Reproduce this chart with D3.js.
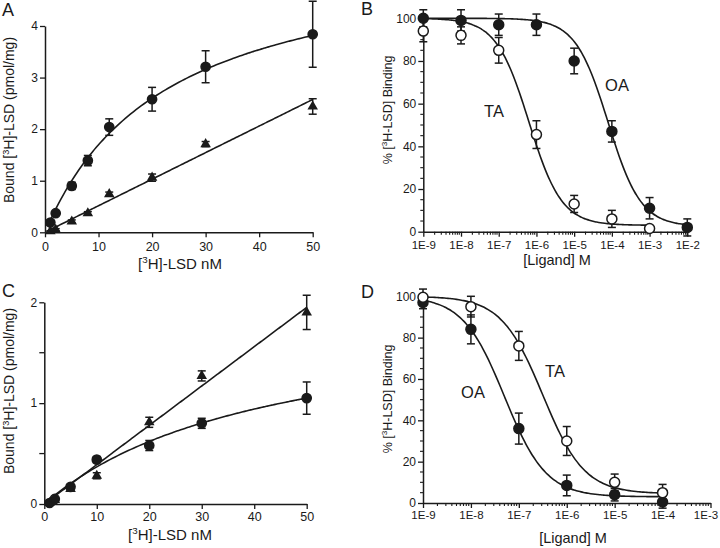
<!DOCTYPE html>
<html><head><meta charset="utf-8">
<script src="https://cdn.jsdelivr.net/npm/d3@7"></script>
<style>
body{margin:0;background:#fff}
svg{display:block}
text{font-family:"Liberation Sans",Arial,sans-serif;fill:#1a1a1a}
</style>
</head><body>
<svg id="chart" width="720" height="548"></svg>
<script>
// ---------- Panel A: saturation binding ----------
const concA = [1, 2, 5, 8, 12, 20, 30, 50];
const boundA_circle = [0.19, 0.37, 0.90, 1.39, 2.04, 2.58, 3.21, 3.84];
const errA_circle = [0.03, 0.04, 0.07, 0.10, 0.16, 0.23, 0.31, 0.64];
const boundA_triangle = [0.02, 0.05, 0.21, 0.37, 0.74, 1.06, 1.71, 2.44];
const errA_triangle = [0.01, 0.02, 0.03, 0.03, 0.04, 0.07, 0.05, 0.15];
const fitA_circle = [5.55, 22.7];   // Bmax, Kd (hyperbola)
const fitA_triangle = [0.0515];     // slope (linear)

// ---------- Panel C: saturation binding ----------
const concC = [1, 2, 5, 10, 20, 30, 50];
const boundC_circle = [0.01, 0.05, 0.17, 0.44, 0.58, 0.80, 1.05];
const errC_circle = [0.01, 0.01, 0.02, 0.03, 0.05, 0.05, 0.16];
const boundC_triangle = [0.01, 0.04, 0.15, 0.28, 0.81, 1.27, 1.90];
const errC_triangle = [0.01, 0.01, 0.02, 0.03, 0.05, 0.05, 0.17];
const fitC_circle = [1.953, 43];
const fitC_triangle = [0.039];

// ---------- Panel B: competition ----------
const logLigandB = [-9, -8, -7, -6, -5, -4, -3, -2];
const bindB_OA = [100, 99, 97, 97, 80, 47, 11, 2];
const errB_OA = [4, 5, 5, 5, 6, 5, 5, 4];
const bindB_TA = [94, 92, 85, 45.5, 13, 6, 1.5];
const errB_TA = [5, 4, 6, 6.5, 4, 4, 1];
const fitB_OA = [100, 2.5, -4.1];   // top, bottom, logIC50
const fitB_TA = [100, 3, -6.2];

// ---------- Panel D: competition ----------
const logLigandD = [-9, -8, -7, -6, -5, -4];
const bindD_TA = [99.5, 95, 76, 30, 10, 5];
const errD_TA = [4, 5, 7, 7, 4, 4];
const bindD_OA = [97, 84, 36, 8.5, 4, 0.5];
const errD_OA = [3, 7, 7.5, 5, 3, 3];
const fitD_TA = [100, 4.5, -6.5];
const fitD_OA = [100, 3, -7.3];

// tick labels
const linTicks = [0, 10, 20, 30, 40, 50];
const yTicksA = [0, 1, 2, 3, 4];
const yTicksC = [0, 1, 2];
const yMinorC = [0.5, 1.5];
const pctTicks = [0, 20, 40, 60, 80, 100];
const logTicksB = [-9, -8, -7, -6, -5, -4, -3, -2];
const logTicksD = [-9, -8, -7, -6, -5, -4, -3];

const svg = d3.select("#chart");
const ink = "#1a1a1a";

function supText(g, x, y, parts, size, anchor, rotate) {
  const t = g.append("text").attr("font-size", size).attr("text-anchor", anchor || "middle");
  if (rotate) t.attr("transform", `translate(${x},${y}) rotate(-90)`);
  else t.attr("x", x).attr("y", y);
  let shift = 0;
  parts.forEach(p => {
    if (p.sup) {
      t.append("tspan").attr("font-size", size * 0.65).attr("dy", -size * 0.38).text(p.sup);
      shift = size * 0.38;
    } else {
      const ts = t.append("tspan").text(p.t);
      if (shift) { ts.attr("dy", shift); shift = 0; }
    }
  });
  return t;
}

function styleAxis(g) {
  g.select(".domain").attr("stroke", ink).attr("stroke-width", 1.5);
  g.selectAll(".tick line").attr("stroke", ink).attr("stroke-width", 1.3);
  g.selectAll(".tick text").attr("font-size", 12).attr("fill", ink)
    .attr("font-family", '"Liberation Sans",Arial,sans-serif');
}

function errorBars(g, x, y, xs, ys, es) {
  xs.forEach((xv, i) => {
    if (ys[i] === undefined) return;
    const e = es[i], cx = x(xv);
    const y1 = y(ys[i] + e), y2 = y(ys[i] - e);
    g.append("line").attr("x1", cx).attr("x2", cx).attr("y1", y1).attr("y2", y2)
      .attr("stroke", ink).attr("stroke-width", 1.5);
    [y1, y2].forEach(yy => g.append("line").attr("x1", cx - 4).attr("x2", cx + 4)
      .attr("y1", yy).attr("y2", yy).attr("stroke", ink).attr("stroke-width", 1.5));
  });
}

function circles(g, x, y, xs, ys, open, r) {
  xs.forEach((xv, i) => {
    if (ys[i] === undefined) return;
    g.append("circle").attr("cx", x(xv)).attr("cy", y(ys[i])).attr("r", r)
      .attr("fill", open ? "#fff" : ink).attr("stroke", ink).attr("stroke-width", 1.5);
  });
}

function triangles(g, x, y, xs, ys) {
  const sym = d3.symbol().type(d3.symbolTriangle).size(48);
  xs.forEach((xv, i) => {
    g.append("path").attr("d", sym()).attr("transform", `translate(${x(xv)},${y(ys[i])})`)
      .attr("fill", ink);
  });
}

function curve(g, x, y, x0, x1, f, step) {
  const pts = d3.range(x0, x1 + step / 2, step).map(v => [v, f(v)]);
  g.append("path").datum(pts)
    .attr("d", d3.line().x(d => x(d[0])).y(d => y(d[1])).curve(d3.curveMonotoneX))
    .attr("fill", "none").attr("stroke", ink).attr("stroke-width", 1.6);
}

const hyper = p => v => p[0] * v / (p[1] + v);
const linear = p => v => p[0] * v;
const logistic = p => v => p[1] + (p[0] - p[1]) / (1 + Math.pow(10, v - p[2]));

// ---------- Saturation panel ----------
function satPanel(cfg) {
  const g = svg.append("g");
  const x = d3.scaleLinear().domain([0, 50]).range(cfg.xr);
  const y = d3.scaleLinear().domain(cfg.yd).range(cfg.yr);
  const xa = g.append("g").attr("transform", `translate(0,${cfg.yr[0]})`)
    .call(d3.axisBottom(x).tickValues(linTicks).tickSize(5).tickSizeOuter(0).tickPadding(cfg.xpad).tickFormat(d => String(d)));
  styleAxis(xa);
  xa.selectAll(".tick text").attr("font-size", 12.5);
  const ya = g.append("g").attr("transform", `translate(${cfg.xr[0]},0)`)
    .call(d3.axisLeft(y).tickValues(cfg.yticks).tickSize(5).tickSizeOuter(0).tickPadding(2)
      .tickFormat(d => String(d)));
  styleAxis(ya);
  g.selectAll(null).data(cfg.yminor).enter().append("line")
    .attr("x1", cfg.xr[0] - 5).attr("x2", cfg.xr[0]).attr("y1", d => y(d)).attr("y2", d => y(d))
    .attr("stroke", ink).attr("stroke-width", 1.3);
  g.append("text").attr("x", cfg.letter[0]).attr("y", cfg.letter[1]).attr("font-size", 18).text(cfg.name);
  supText(g, cfg.xt[0], cfg.xt[1], [{t: "["}, {sup: "3"}, {t: "H]-LSD nM"}], 15);
  supText(g, cfg.yt[0], cfg.yt[1], [{t: "Bound ["}, {sup: "3"}, {t: "H]-LSD (pmol/mg)"}], 14, "middle", true);
  curve(g, x, y, 0.5, 50, cfg.fitC, 0.5);
  curve(g, x, y, 0.5, 50, cfg.fitT, 0.5);
  errorBars(g, x, y, cfg.conc, cfg.circ, cfg.circE);
  errorBars(g, x, y, cfg.conc, cfg.tri, cfg.triE);
  triangles(g, x, y, cfg.conc, cfg.tri);
  circles(g, x, y, cfg.conc, cfg.circ, false, 4.6);
}

satPanel({name: "A", xr: [45, 312.7], yd: [0, 4], yr: [232.3, 26], yticks: yTicksA, yminor: [], xpad: 5,
  letter: [2, 16], xt: [180, 269], yt: [14, 120],
  conc: concA, circ: boundA_circle, circE: errA_circle, tri: boundA_triangle, triE: errA_triangle,
  fitC: hyper(fitA_circle), fitT: linear(fitA_triangle)});

satPanel({name: "C", xr: [44.3, 306.7], yd: [0, 2], yr: [504, 302.3], yticks: yTicksC, yminor: yMinorC, xpad: 3.5,
  letter: [2, 297], xt: [170, 540], yt: [14, 391],
  conc: concC, circ: boundC_circle, circE: errC_circle, tri: boundC_triangle, triE: errC_triangle,
  fitC: hyper(fitC_circle), fitT: linear(fitC_triangle)});

// ---------- Competition panel ----------
function compPanel(cfg) {
  const g = svg.append("g");
  const x = d3.scaleLinear().domain(cfg.xd).range(cfg.xr);
  const y = d3.scaleLinear().domain([0, 100]).range(cfg.yr);
  const xa = g.append("g").attr("transform", `translate(0,${cfg.yr[0]})`)
    .call(d3.axisBottom(x).tickValues(cfg.xticks).tickSize(5).tickSizeOuter(0).tickPadding(cfg.xpad)
      .tickFormat(d => "1E" + String(d)));
  styleAxis(xa);
  xa.selectAll(".tick text").attr("font-size", 11.5);
  if (cfg.lastShift) xa.selectAll(".tick text").filter(d => d === cfg.xd[1]).attr("dx", cfg.lastShift);
  // minor log ticks
  const minors = [];
  for (let k = cfg.xd[0]; k < cfg.xd[1]; k++) for (let m = 2; m <= 9; m++) minors.push(k + Math.log10(m));
  g.selectAll(null).data(minors).enter().append("line")
    .attr("x1", d => x(d)).attr("x2", d => x(d)).attr("y1", cfg.yr[0]).attr("y2", cfg.yr[0] + 3)
    .attr("stroke", ink).attr("stroke-width", 1.1);
  const ya = g.append("g").attr("transform", `translate(${cfg.xr[0]},0)`)
    .call(d3.axisLeft(y).tickValues(pctTicks).tickSize(5).tickSizeOuter(0).tickPadding(2));
  styleAxis(ya);
  const yminors = d3.range(5, 100, 5).filter(v => v % 20 !== 0);
  g.selectAll(null).data(yminors).enter().append("line")
    .attr("x1", cfg.xr[0] - 3).attr("x2", cfg.xr[0]).attr("y1", d => y(d)).attr("y2", d => y(d))
    .attr("stroke", ink).attr("stroke-width", 1.1);
  g.append("text").attr("x", cfg.letter[0]).attr("y", cfg.letter[1]).attr("font-size", 18).text(cfg.name);
  g.append("text").attr("x", cfg.xt[0]).attr("y", cfg.xt[1]).attr("font-size", 14.5)
    .attr("text-anchor", "middle").text("[Ligand] M");
  supText(g, cfg.yt[0], cfg.yt[1], [{t: "% ["}, {sup: "3"}, {t: "H-LSD] Binding"}], 12.5, "middle", true);
  cfg.series.forEach(s => curve(g, x, y, cfg.xd[0], s.end, logistic(s.fit), 0.05));
  cfg.series.forEach(s => errorBars(g, x, y, cfg.logs, s.v, s.e));
  cfg.series.forEach(s => circles(g, x, y, cfg.logs, s.v, s.open, 5));
  cfg.labels.forEach(l => g.append("text").attr("x", l[0]).attr("y", l[1]).attr("font-size", 16.5)
    .attr("text-anchor", "middle").text(l[2]));
}

compPanel({name: "B", xd: [-9, -2], xr: [423.3, 687.3], yr: [231.7, 18.3], xticks: logTicksB, xpad: 4,
  letter: [361, 15], xt: [557, 265], yt: [392, 110], logs: logLigandB,
  series: [
    {v: bindB_TA, e: errB_TA, open: true, fit: fitB_TA, end: -3},
    {v: bindB_OA, e: errB_OA, open: false, fit: fitB_OA, end: -2}
  ],
  labels: [[617, 91, "OA"], [494, 117, "TA"]]});

compPanel({name: "D", xd: [-9, -3], xr: [423, 710.5], yr: [503, 296.3], xticks: logTicksD, xpad: 3, lastShift: -5,
  letter: [361, 298], xt: [573, 543], yt: [392, 399], logs: logLigandD,
  series: [
    {v: bindD_OA, e: errD_OA, open: false, fit: fitD_OA, end: -4},
    {v: bindD_TA, e: errD_TA, open: true, fit: fitD_TA, end: -4}
  ],
  labels: [[555, 377, "TA"], [473, 398, "OA"]]});
</script>
</body></html>
